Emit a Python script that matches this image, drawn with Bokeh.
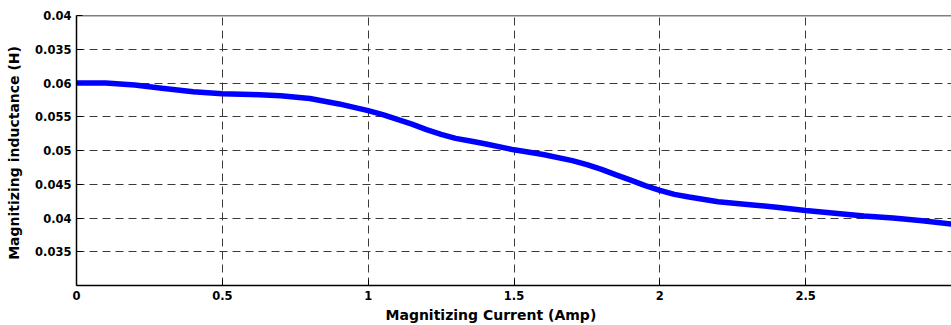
from bokeh.plotting import figure
from bokeh.models import FixedTicker, Range1d, Span, Title
from bokeh.embed import file_html
from bokeh.resources import INLINE

# Data
current = [0.0, 0.1, 0.2, 0.3, 0.4, 0.5, 0.6, 0.7, 0.8, 0.9, 1.0, 1.05, 1.1, 1.15, 1.2,
           1.25, 1.3, 1.35, 1.4, 1.5, 1.6, 1.7, 1.75, 1.8, 1.85, 1.9, 1.95, 2.0, 2.05,
           2.1, 2.2, 2.3, 2.4, 2.5, 2.6, 2.7, 2.8, 2.9, 3.0]
inductance = [0.0600, 0.0600, 0.0597, 0.0592, 0.0587, 0.0584, 0.0583, 0.0581, 0.0577,
              0.0569, 0.0559, 0.0553, 0.0546, 0.0539, 0.0531, 0.0524, 0.0518, 0.0514,
              0.0510, 0.0501, 0.0494, 0.0485, 0.0479, 0.0472, 0.0464, 0.0456, 0.0448,
              0.0441, 0.0435, 0.0431, 0.0424, 0.0420, 0.0416, 0.0411, 0.0407, 0.0403,
              0.0400, 0.0396, 0.0391]

x_ticks = [0, 0.5, 1, 1.5, 2, 2.5]
x_tick_labels = ["0", "0.5", "1", "1.5", "2", "2.5"]
y_ticks = [0.035, 0.04, 0.045, 0.05, 0.055, 0.06, 0.065, 0.07]
y_tick_labels = ["0.035", "0.04", "0.045", "0.05", "0.055", "0.06", "0.035", "0.04"]

x_label = "Magnitizing Current (Amp)"
y_label = "Magnitizing  inductance (H)"

FONT = "DejaVu Sans"

p = figure(width=951, height=325, output_backend="svg", toolbar_location=None,
           x_range=Range1d(0, 3.0), y_range=Range1d(0.03, 0.07),
           min_border_left=76, min_border_right=0, min_border_top=15, min_border_bottom=5)
p.outline_line_color = None
p.background_fill_color = "white"
p.border_fill_color = "white"

p.line(current, inductance, line_color="#0000FF", line_width=5.5)

for ax, ticks, labels in ((p.xaxis[0], x_ticks, x_tick_labels), (p.yaxis[0], y_ticks, y_tick_labels)):
    ax.ticker = FixedTicker(ticks=ticks)
    ax.major_label_overrides = {t: l for t, l in zip(ticks, labels)}
    ax.major_tick_in = 6
    ax.major_tick_out = 0
    ax.minor_tick_in = 0
    ax.minor_tick_out = 0
    ax.axis_line_color = "black"
    ax.axis_line_width = 1.5
    ax.major_tick_line_color = "black"
    ax.major_label_text_font = FONT
    ax.major_label_text_font_style = "bold"
    ax.major_label_text_font_size = "11.5px"
    ax.major_label_text_color = "black"
    ax.axis_label_text_font = FONT
    ax.axis_label_text_font_style = "bold"
    ax.axis_label_text_font_size = "14px"
    ax.axis_label_text_color = "black"
    ax.major_label_standoff = 5

p.yaxis.axis_label = y_label
p.yaxis.axis_label_standoff = 10

xt = Title(text=x_label, align="left", offset=309, text_font=FONT,
           text_font_style="bold", text_font_size="14px", text_color="black",
           standoff=5)
p.add_layout(xt, "below")

# top border of the axes box
p.add_layout(Span(location=0.07, dimension="width", line_color="black", line_width=1.5))

p.xgrid.ticker = FixedTicker(ticks=x_ticks[1:])
p.ygrid.ticker = FixedTicker(ticks=y_ticks)
for g in (p.xgrid[0], p.ygrid[0]):
    g.grid_line_color = "#3a3a3a"
    g.grid_line_dash = "8 5"
    g.grid_line_width = 1

open("out.html", "w").write(file_html(p, INLINE))
